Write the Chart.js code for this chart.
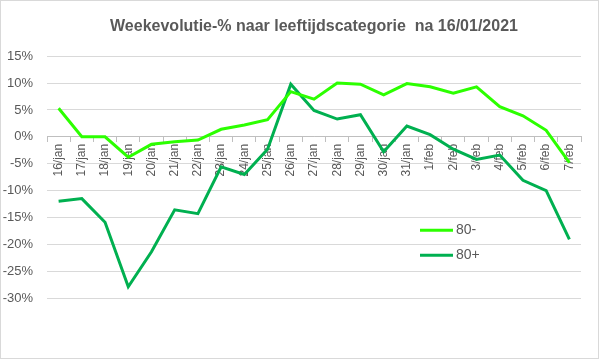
<!DOCTYPE html>
<html>
<head>
<meta charset="utf-8">
<script src="https://cdn.jsdelivr.net/npm/chart.js@4"></script>
<style>
  body { margin: 0; background: #fff; }
  #wrap { position: relative; width: 599px; height: 359px; }
  #frame { position: absolute; left: 0; top: 0; width: 597px; height: 357px; border: 1px solid #d9d9d9; pointer-events: none; }
</style>
</head>
<body>
<div id="wrap">
  <canvas id="grafiek" width="599" height="359"></canvas>
  <div id="frame"></div>
</div>
<script>
const dagen = ['16/jan', '17/jan', '18/jan', '19/jan', '20/jan', '21/jan', '22/jan', '23/jan',
    '24/jan', '25/jan', '26/jan', '27/jan', '28/jan', '29/jan', '30/jan', '31/jan',
    '1/feb', '2/feb', '3/feb', '4/feb', '5/feb', '6/feb', '7/feb'];

const onder80 = [5.3, 0, 0, -3.8, -1.4, -0.9, -0.6, 1.4, 2.2, 3.2, 8.4, 7.0,
    10.0, 9.8, 7.8, 9.9, 9.3, 8.1, 9.3, 5.6, 3.9, 1.2, -4.8];

const boven80 = [-12.0, -11.5, -15.9, -27.9, -21.4, -13.6, -14.3, -5.6, -7.0, -2.3, 9.8, 4.9,
    3.3, 4.1, -2.8, 2.0, 0.4, -2.3, -4.2, -3.4, -8.1, -10.0, -19.1];

const reeksen = ['80-', '80+'];
const kleuren = ['#2cff00', '#00b050'];

// legende zoals in Excel, binnen het plotgebied
const legende = {
    id: 'legende',
    afterDraw(chart) {
        const ctx = chart.ctx;
        const a = chart.chartArea;
        const x = a.left + 373;
        ctx.save();
        ctx.font = '14px "Liberation Sans", Arial, sans-serif';
        ctx.textBaseline = 'middle';
        chart.data.datasets.forEach((ds, i) => {
            const y = a.top + 174 + i * 25;
            ctx.strokeStyle = ds.borderColor;
            ctx.lineWidth = 3;
            ctx.beginPath();
            ctx.moveTo(x, y);
            ctx.lineTo(x + 33, y);
            ctx.stroke();
            ctx.fillStyle = '#595959';
            ctx.fillText(ds.label, x + 36, y);
        });
        ctx.restore();
    }
};

new Chart(document.getElementById('grafiek'), {
    type: 'line',
    data: {
        labels: dagen,
        datasets: [
            { label: reeksen[0], data: onder80, borderColor: kleuren[0], backgroundColor: kleuren[0] },
            { label: reeksen[1], data: boven80, borderColor: kleuren[1], backgroundColor: kleuren[1] }
        ]
    },
    options: {
        responsive: false,
        animation: false,
        layout: { padding: { left: 0, right: 18, top: 0, bottom: 61 } },
        elements: {
            line: { borderWidth: 3, tension: 0 },
            point: { radius: 0 }
        },
        plugins: {
            legend: { display: false },
            tooltip: { enabled: false },
            title: {
                display: true,
                fullSize: false,
                text: 'Weekevolutie-% naar leeftijdscategorie  na 16/01/2021',
                color: '#595959',
                font: { family: '"Liberation Sans", Arial, sans-serif', size: 16, weight: 'bold' },
                padding: { top: 17, bottom: 20 }
            }
        },
        scales: {
            x: {
                position: { y: 0 },
                offset: true,
                grid: {
                    offset: true,
                    drawOnChartArea: false,
                    drawTicks: true,
                    tickLength: 5,
                    color: '#bfbfbf'
                },
                border: { display: true, color: '#bfbfbf' },
                ticks: {
                    minRotation: 90,
                    maxRotation: 90,
                    autoSkip: false,
                    padding: 2,
                    color: '#595959',
                    font: { family: '"Liberation Sans", Arial, sans-serif', size: 12 }
                }
            },
            y: {
                min: -30,
                max: 15,
                afterFit: s => { s.width = 47; },
                grid: { color: '#d9d9d9', drawTicks: false },
                border: { display: false },
                ticks: {
                    stepSize: 5,
                    padding: 14,
                    color: '#595959',
                    font: { family: '"Liberation Sans", Arial, sans-serif', size: 13 },
                    callback: v => v + '%'
                }
            }
        }
    },
    plugins: [legende]
});
</script>
</body>
</html>
